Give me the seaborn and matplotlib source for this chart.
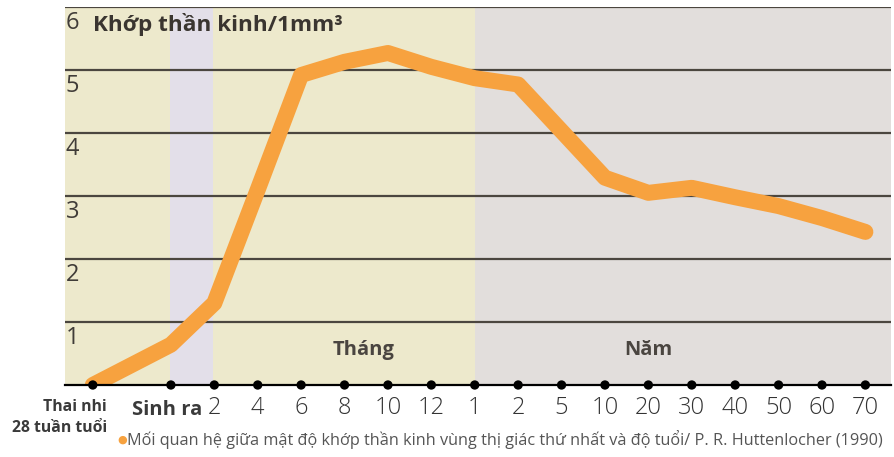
import numpy as np
import pandas as pd
import matplotlib
matplotlib.use('Agg')
import matplotlib.pyplot as plt
import seaborn as sns

# Data
x_labels = ['Thai nhi\n28 tuần tuổi', 'Sinh ra', '2', '4', '6', '8', '10', '12',
            '1', '2', '5', '10', '20', '30', '40', '50', '60', '70']
x_pos = [-1.8, 0, 1, 2, 3, 4, 5, 6, 7, 8, 9, 10, 11, 12, 13, 14, 15, 16]
synapses = [0.0, 0.64, 1.3, 3.1, 4.92, 5.13, 5.27, 5.05, 4.87, 4.77,
            4.03, 3.29, 3.05, 3.13, 2.98, 2.84, 2.65, 2.43]
y_ticks = [1, 2, 3, 4, 5, 6]

df = pd.DataFrame({'pos': x_pos, 'value': synapses})

sns.set_theme(style='white')
plt.rcParams['font.family'] = ['Open Sans', 'DejaVu Sans']

fig = plt.figure(figsize=(8.94, 4.57), dpi=100)
ax = fig.add_axes([65 / 894, 72 / 457, (891 - 65) / 894, 378 / 457])
ax.set_xlim(-2.44, 16.59)
ax.set_ylim(0, 6)

# background bands
ax.axvspan(-2.44, -0.03, color='#EDE9CC', lw=0, zorder=0)
ax.axvspan(-0.03, 0.97, color='#E3DFE9', lw=0, zorder=0)
ax.axvspan(0.97, 7.0, color='#EDE9CC', lw=0, zorder=0)
ax.axvspan(7.0, 16.59, color='#E2DEDC', lw=0, zorder=0)

# gridlines + y labels
for v in y_ticks:
    ax.axhline(v, color='#4B463F', lw=1.6, zorder=1)
    ax.text(-2.42, v - 0.25, str(v), ha='left', va='center', fontsize=17,
            color='#403c38')

sns.lineplot(data=df, x='pos', y='value', ax=ax, color='#F7A23F', lw=11.5,
             solid_capstyle='round', solid_joinstyle='round', zorder=3)

sns.scatterplot(x=x_pos, y=[0] * len(x_pos), ax=ax, color='black', s=45,
                edgecolor='none', zorder=5, clip_on=False)

for s in ['top', 'right', 'left']:
    ax.spines[s].set_visible(False)
ax.spines['bottom'].set_color('black')
ax.spines['bottom'].set_linewidth(1.6)
ax.spines['bottom'].set_zorder(4)

ax.set_yticks([])
ax.set_xticks(x_pos[2:])
ax.set_xticklabels(x_labels[2:], fontsize=17, color='#333333', fontweight='light')
ax.tick_params(axis='x', length=0, pad=8)
ax.set_xlabel('')
ax.set_ylabel('')

ax.text(-0.08, -0.4, x_labels[1], ha='center', va='center', fontsize=14.5,
        fontweight='bold', color='#3a3a3a')
ax.text(-1.48, -0.52, x_labels[0], ha='right', va='center', fontsize=11.3,
        fontweight='bold', color='#3a3a3a', multialignment='right', linespacing=1.45)

ax.text(-1.8, 5.72, 'Khớp thần kinh/1mm³', ha='left', va='center', fontsize=16.2,
        fontweight='bold', color='#3a3530')
ax.text(4.45, 0.56, 'Tháng', ha='center', va='center', fontsize=14.5,
        fontweight='bold', color='#4a4540')
ax.text(10.99, 0.56, 'Năm', ha='center', va='center', fontsize=14.5,
        fontweight='bold', color='#4a4540')

fig.text(122 / 894, 1 - 440 / 457, '●', color='#F7A23F', fontsize=8,
         ha='center', va='center')
fig.text(127 / 894, 1 - 440 / 457,
         'Mối quan hệ giữa mật độ khớp thần kinh vùng thị giác thứ nhất và độ tuổi/ P. R. Huttenlocher (1990)',
         color='#555555', fontsize=11.7, ha='left', va='center')

fig.savefig('out.png', dpi=100, facecolor='white')
